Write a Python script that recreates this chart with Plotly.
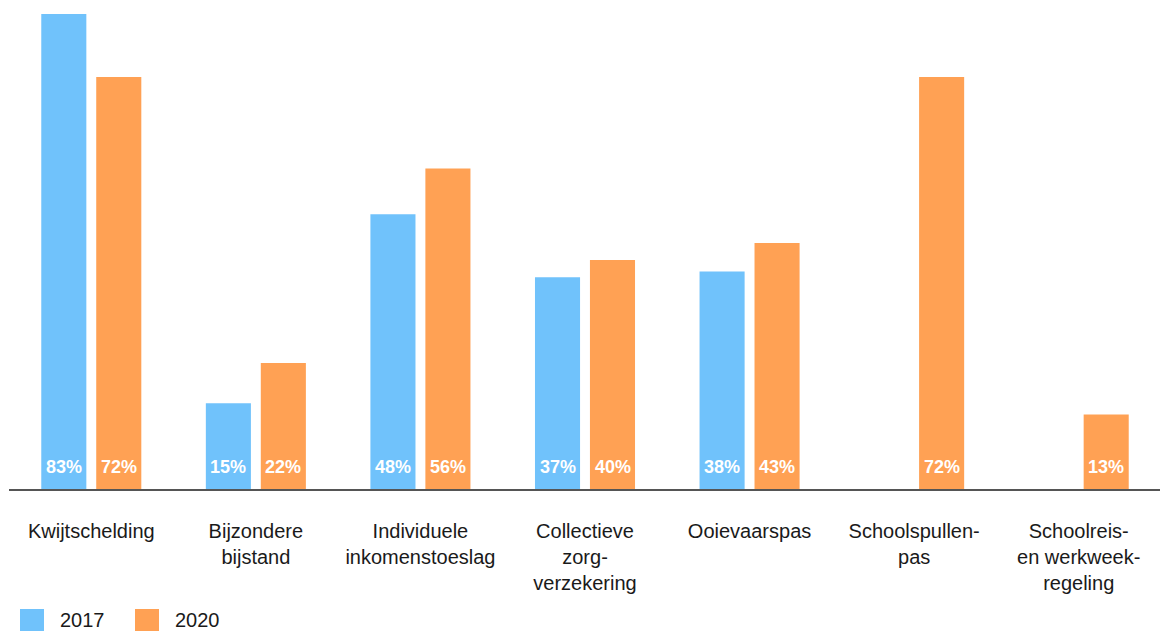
import plotly.graph_objects as go

categories = ["Kwijtschelding", "Bijzondere<br>bijstand", "Individuele<br>inkomenstoeslag",
              "Collectieve<br>zorg-<br>verzekering", "Ooievaarspas", "Schoolspullen-<br>pas",
              "Schoolreis-<br>en werkweek-<br>regeling"]
values_2017 = [83, 15, 48, 37, 38, None, None]
values_2020 = [72, 22, 56, 40, 43, 72, 13]
series_names = ["2017", "2020"]
colors = ["#70C2FB", "#FFA154"]

FONT = "Arial, Liberation Sans, sans-serif"

fig = go.Figure()
for name, vals, col in zip(series_names, [values_2017, values_2020], colors):
    fig.add_trace(go.Bar(
        x=categories, y=vals, name=name, marker_color=col, marker_line_width=0,
        showlegend=False, hoverinfo="skip",
    ))

# value labels near the base of each bar
for i, (name, vals) in enumerate(zip(series_names, [values_2017, values_2020])):
    shift = -27.5 if i == 0 else 27.5
    for cat, v in zip(categories, vals):
        if v is None:
            continue
        fig.add_annotation(x=cat, y=0, yref="y", xref="x", text=f"<b>{v}%</b>",
                           showarrow=False, xshift=shift, yshift=22,
                           font=dict(family=FONT, size=18, color="white"))

# legend drawn manually (pixel offsets from the bottom-left of the plot area)
for i, (name, col) in enumerate(zip(series_names, colors)):
    x0 = 11 + i * 115
    fig.add_shape(type="rect", xref="paper", yref="paper",
                  xsizemode="pixel", ysizemode="pixel", xanchor=0, yanchor=0,
                  x0=x0, x1=x0 + 24, y0=-142, y1=-120,
                  fillcolor=col, line_width=0)
    fig.add_annotation(xref="paper", yref="paper", x=0, y=0,
                       xshift=x0 + 38, yshift=-131, text=name, showarrow=False,
                       xanchor="left", yanchor="middle",
                       font=dict(family=FONT, size=20, color="#1a1a1a"))

fig.update_layout(
    width=1160, height=623,
    margin=dict(l=1, r=7, t=0, b=142),
    plot_bgcolor="white", paper_bgcolor="white",
    barmode="group", bargap=0.332, bargroupgap=0.18,
    font=dict(family=FONT, size=20, color="#1a1a1a"),
)
fig.update_xaxes(showline=True, linecolor="#555555", linewidth=1.5, showgrid=False,
                 ticks="outside", ticklen=0, tickcolor="white",
                 ticklabelstandoff=23, tickfont=dict(size=20))
fig.update_yaxes(range=[0, 481 / 5.723], visible=False, showgrid=False, zeroline=False)

fig.write_html("out.html")
